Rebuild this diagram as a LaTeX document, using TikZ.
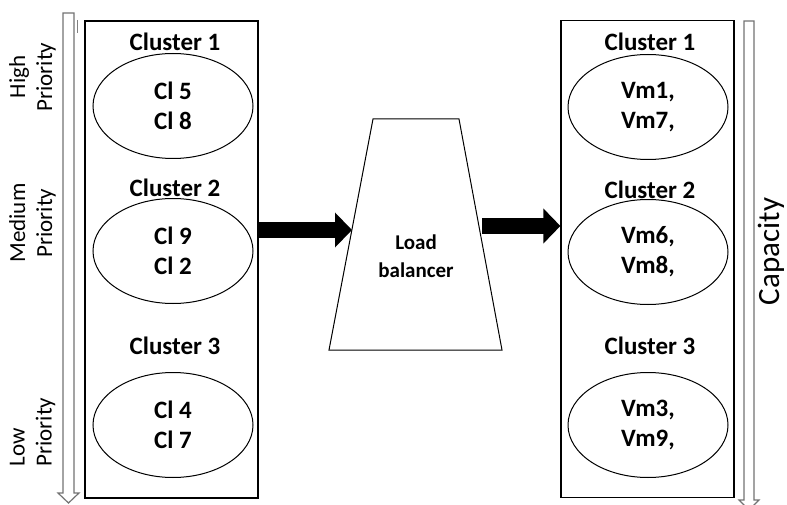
\documentclass[tikz,border=0pt]{standalone}
\usepackage{fontspec}
\setmainfont{Carlito}
\usetikzlibrary{shapes.geometric,arrows.meta}

\begin{document}
\begin{tikzpicture}[x=1pt,y=-1pt]
\def \posright {476}
\useasboundingbox (0,0) rectangle (787,505);
   \tikzset{BoxStyle/.style = {draw, line width=1.2pt, minimum width=173pt, minimum height=477pt, inner sep=0pt}}
   \tikzset{TitleStyle/.style = {font=\fontsize{25}{30}\selectfont\bfseries}}
   \tikzset{GroupStyle/.style = {draw, ellipse, line width=1pt, minimum width=160pt, minimum height=105pt, inner sep=0pt, align=center, font=\fontsize{25}{30}\selectfont\bfseries}}
   \tikzset{SideStyle/.style = {rotate=90, align=center, font=\fontsize{23}{27}\selectfont}}
   \tikzset{HollowArrow/.style = {draw=gray!90!black, fill=white, line width=1.2pt}}
   \tikzset{BigArrow/.style = {line width=16pt, -{Triangle[length=17pt,width=34pt]}}}

% left side: clients
   \node[BoxStyle] (lbox) at (171.5,259.5) {};
   \node[TitleStyle] (lt1) at (175,42) {Cluster 1};
   \node[TitleStyle] (lt2) at (175,188) {Cluster 2};
   \node[TitleStyle] (lt3) at (175,346) {Cluster 3};
   \node[GroupStyle] (lg1) at (173,106) {Cl 5\\Cl 8};
   \node[GroupStyle] (lg2) at (173,251) {Cl 9\\Cl 2};
   \node[GroupStyle] (lg3) at (173,425) {Cl 4\\Cl 7};

% right side: virtual machines
   \node[BoxStyle] (rbox) at (171.5+\posright,259) {};
   \node[TitleStyle] (rt1) at (174+\posright,42) {Cluster 1};
   \node[TitleStyle] (rt2) at (174+\posright,190) {Cluster 2};
   \node[TitleStyle] (rt3) at (174+\posright,346) {Cluster 3};
   \node[GroupStyle] (rg1) at (172+\posright,107) {Vm1,\\Vm7,};
   \node[GroupStyle] (rg2) at (172+\posright,252) {Vm6,\\Vm8,};
   \node[GroupStyle] (rg3) at (172+\posright,425) {Vm3,\\Vm9,};

% load balancer
   \coordinate (lbtl) at (373,119);
   \coordinate (lbtr) at (459,119);
   \coordinate (lbbr) at (502,350);
   \coordinate (lbbl) at (329,350);
   \draw[line width=1pt] (lbtl) -- (lbtr) -- (lbbr) -- (lbbl) -- cycle;
   \node[align=center, font=\fontsize{21}{28}\selectfont\bfseries] (lbtext) at (416,256) {Load\\balancer};
   \coordinate (lbin) at (352,230);
   \coordinate (lbout) at (482,226);

   \draw[BigArrow] (lbox.east |- lbin) -- (lbin);
   \draw[BigArrow] (lbout) -- (rbox.west |- lbout);

% priority and capacity scales
   \draw[HollowArrow] (63,13) -- (74,13) -- (74,493) -- (79,493) -- (68.5,503) -- (58,493) -- (63,493) -- cycle;
   \draw[gray, line width=0.8pt] (77,20) -- (77,33);
   \draw[HollowArrow] (744,21) -- (754,21) -- (754,500) -- (759,500) -- (749,510) -- (739,500) -- (744,500) -- cycle;

   \node[SideStyle] (high) at (32.5,77) {High\\Priority};
   \node[SideStyle] (medium) at (32.5,223) {Medium\\Priority};
   \node[SideStyle, align=left, anchor=west] (low) at (32.5,470) {Low\\Priority};
   \node[rotate=90, anchor=base, font=\fontsize{31}{38}\selectfont] (capacity) at (779,251.5) {Capacity};

\end{tikzpicture}
\end{document}
